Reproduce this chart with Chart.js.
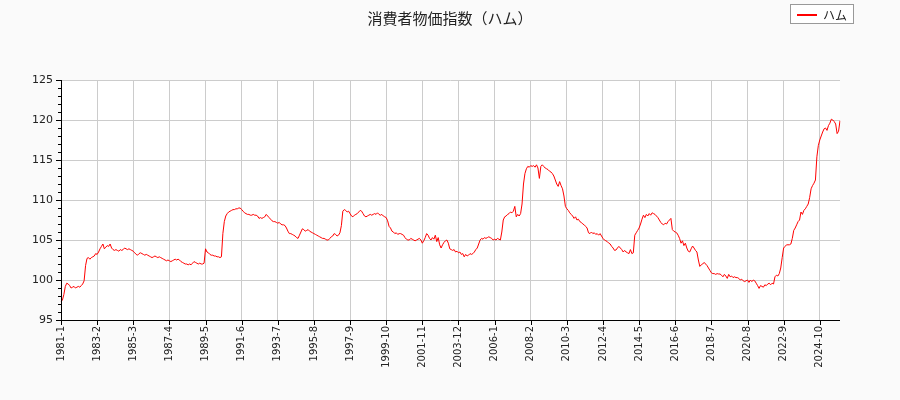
<!DOCTYPE html>
<html><head><meta charset="utf-8">
<script src="https://cdn.jsdelivr.net/npm/chart.js@4"></script>
<style>
body{margin:0;background:#fafafa;font-family:"DejaVu Sans",sans-serif;}
#wrap{position:relative;width:900px;height:400px;}
#title{position:absolute;top:7px;left:0;width:900px;text-align:center;font-size:15px;color:#222;font-family:"Noto Sans CJK JP","DejaVu Sans",sans-serif;}
#legend{position:absolute;left:790px;top:4px;width:64px;height:20px;border:1px solid #999;background:#fff;font-size:12px;color:#222;box-sizing:border-box;font-family:"Noto Sans CJK JP",sans-serif;}
#legend span.l{position:absolute;left:6px;top:9px;width:20px;height:2px;background:#f00;}
#legend span.t{position:absolute;left:32px;top:1px;}
</style></head><body>
<div id="wrap"><canvas id="c" width="900" height="400"></canvas>
<div id="title">消費者物価指数（ハム）</div>
<div id="legend"><span class="l"></span><span class="t">ハム</span></div></div>
<script>
const startYear = 1981;
const seriesName = "ハム";
const yTicks = [95,100,105,110,115,120,125];
const v1981_1989 = [
97.3,97.5,98.2,99.2,99.6,99.5,99.3,99.0,99.1,99.2,99.0,99.1,
99.2,99.1,99.3,99.5,99.9,101.8,102.7,102.8,102.6,102.8,102.9,103.0,
103.3,103.2,103.5,103.9,104.2,104.5,103.9,104.1,104.3,104.2,104.5,104.0,
103.8,103.7,103.8,103.7,103.6,103.8,103.7,103.8,104.0,103.9,103.8,103.9,
103.8,103.7,103.6,103.4,103.2,103.1,103.3,103.4,103.3,103.2,103.1,103.2,
103.1,103.0,102.9,102.8,102.9,103.0,102.9,102.8,102.9,102.8,102.7,102.6,
102.5,102.4,102.5,102.4,102.3,102.4,102.5,102.6,102.5,102.6,102.5,102.3,
102.2,102.1,102.0,102.0,101.9,102.0,101.9,102.1,102.3,102.2,102.1,102.0,
102.1,102.0,102.0,102.1,103.9,103.5,103.4,103.2,103.1,103.1,103.0,103.0];
const v1990_1999 = [
102.9,102.9,102.8,102.9,105.8,107.3,108.0,108.3,108.5,108.6,108.7,108.8,
108.8,108.9,108.9,109.0,109.0,108.8,108.6,108.4,108.3,108.2,108.2,108.1,
108.1,108.2,108.1,108.1,108.0,107.7,107.8,107.7,107.8,107.9,108.2,108.0,
107.8,107.6,107.4,107.3,107.3,107.2,107.1,107.2,107.0,106.9,106.9,106.8,
106.5,106.1,105.8,105.8,105.7,105.6,105.5,105.3,105.2,105.6,106.0,106.4,
106.3,106.1,106.2,106.3,106.1,106.0,105.9,105.8,105.7,105.6,105.5,105.4,
105.3,105.2,105.2,105.1,105.0,105.0,105.2,105.4,105.5,105.8,105.7,105.5,
105.6,105.9,106.8,108.6,108.8,108.7,108.5,108.6,108.3,108.0,107.9,108.1,
108.2,108.3,108.5,108.7,108.6,108.3,108.0,107.9,108.0,108.1,108.2,108.1,
108.2,108.3,108.2,108.4,108.2,108.1,108.2,108.0,107.9,107.8,107.4,106.7];
const v2000_2009 = [
106.5,106.1,106.0,105.8,105.9,105.7,105.8,105.8,105.7,105.6,105.3,105.1,
105.0,105.0,105.2,105.1,105.0,104.9,105.0,105.1,105.2,105.0,104.6,104.9,
105.3,105.8,105.6,105.2,105.0,105.3,105.1,105.6,104.8,105.3,104.4,104.0,
104.4,104.7,104.9,105.0,104.6,103.9,103.8,103.7,103.8,103.5,103.6,103.4,
103.5,103.2,103.3,102.9,103.2,103.0,103.1,103.3,103.2,103.3,103.5,103.8,
104.0,104.5,105.0,105.2,105.1,105.3,105.2,105.3,105.4,105.3,105.2,105.0,
105.1,105.0,105.2,105.1,105.0,106.0,107.5,107.9,108.0,108.2,108.3,108.5,
108.4,108.6,109.2,107.9,108.2,108.0,108.3,109.5,112.0,113.3,113.9,114.2,
114.1,114.3,114.2,114.3,114.1,114.4,114.0,112.7,114.2,114.4,114.2,114.0,
113.9,113.8,113.6,113.5,113.3,113.0,112.5,112.0,111.7,112.3,111.8,111.4];
const v2010_2019 = [
110.5,109.2,108.9,108.7,108.4,108.2,108.0,107.7,107.9,107.5,107.6,107.3,
107.2,107.0,106.9,106.7,106.5,105.9,105.8,106.0,105.8,105.9,105.7,105.8,
105.6,105.8,105.5,105.2,105.0,104.9,104.8,104.6,104.5,104.2,104.0,103.7,
103.75,104.0,104.2,104.0,103.8,103.5,103.7,103.5,103.4,103.3,103.8,103.3,
103.4,105.6,105.9,106.2,106.5,107.0,107.6,108.1,107.8,108.2,108.0,108.3,
108.1,108.4,108.3,108.2,108.0,107.8,107.5,107.2,107.0,106.9,107.1,107.0,
107.3,107.5,107.7,106.3,106.1,106.0,105.9,105.6,105.2,104.6,104.9,104.3,
104.6,104.0,103.6,103.5,103.9,104.25,104.0,103.7,103.5,102.5,101.7,101.9,
102.0,102.2,102.0,101.8,101.5,101.2,100.9,100.8,100.8,100.7,100.8,100.75,
100.75,100.6,100.4,100.7,100.5,100.2,100.7,100.4,100.5,100.3,100.4,100.3];
const v2020_2025 = [
100.3,100.2,100.0,100.1,99.9,99.8,99.9,100.0,99.7,100.0,99.8,100.0,
99.9,99.6,99.3,98.95,99.3,99.2,99.1,99.4,99.3,99.5,99.6,99.4,
99.6,99.5,100.4,100.6,100.5,100.8,101.5,102.8,104.0,104.2,104.4,104.4,
104.4,104.5,105.2,106.2,106.5,106.9,107.3,107.5,108.5,108.2,108.7,108.9,
109.2,109.5,110.3,111.4,111.8,112.1,112.5,115.4,116.8,117.5,118.0,118.5,
118.9,119.0,118.7,119.3,119.6,120.1,120.0,119.8,119.5,118.3,118.6,119.9];
const values = [].concat(v1981_1989, v1990_1999, v2000_2009, v2010_2019, v2020_2025);
const labels = values.map((_, i) => (startYear + Math.floor(i / 12)) + '-' + (i % 12 + 1));
const labelStep = 25;

const axisPlugin = {
  id: 'axisDeco',
  afterDraw(chart) {
    const ctx = chart.ctx, a = chart.chartArea, y = chart.scales.y, x = chart.scales.x;
    ctx.save();
    ctx.strokeStyle = '#000'; ctx.lineWidth = 1;
    ctx.beginPath();
    ctx.moveTo(a.left + 0.5, a.top); ctx.lineTo(a.left + 0.5, a.bottom);
    ctx.moveTo(a.left, a.bottom + 0.5); ctx.lineTo(a.right, a.bottom + 0.5);
    for (let v = 95; v <= 125; v++) {
      const py = Math.round(y.getPixelForValue(v)) + 0.5;
      const len = v % 5 === 0 ? 5 : 3;
      ctx.moveTo(a.left - len, py); ctx.lineTo(a.left, py);
    }
    for (let i = 0; i < labels.length; i += labelStep) {
      const px = Math.round(x.getPixelForValue(i)) + 0.5;
      ctx.moveTo(px, a.bottom); ctx.lineTo(px, a.bottom + 5);
    }
    ctx.stroke();
    ctx.restore();
  }
};

new Chart(document.getElementById('c'), {
  type: 'line',
  data: { labels, datasets: [{ label: seriesName, data: values, borderColor: '#ff0000', borderWidth: 1, pointRadius: 0, tension: 0, fill: false }] },
  options: {
    responsive: false, animation: false, devicePixelRatio: 1,
    layout: { padding: { top: 80, right: 60, left: 0, bottom: 0 } },
    plugins: { legend: { display: false }, title: { display: false }, tooltip: { enabled: false } },
    scales: {
      x: {
        type: 'category', offset: false,
        afterFit(s) { s.height = 80; },
        grid: { color: c => (c.index % labelStep === 0 ? '#cccccc' : 'rgba(0,0,0,0)'), drawTicks: false },
        border: { display: false },
        ticks: { autoSkip: false, maxRotation: 90, minRotation: 90, padding: 6, color: '#222', font: { family: 'DejaVu Sans', size: 10 },
          callback: (v, i) => (i % labelStep === 0 ? labels[i] : '') }
      },
      y: {
        min: 95, max: 125,
        afterFit(s) { s.width = 61; },
        afterBuildTicks(s) { s.ticks = yTicks.map(v => ({ value: v })); },
        grid: { color: '#cccccc', drawTicks: false },
        border: { display: false },
        ticks: { padding: 8, color: '#222', font: { family: 'DejaVu Sans', size: 11 } }
      }
    }
  },
  plugins: [axisPlugin, {
    id: 'bg',
    beforeDraw(chart) { const a = chart.chartArea, ctx = chart.ctx; ctx.save(); ctx.fillStyle = '#fff'; ctx.fillRect(a.left, a.top, a.right - a.left, a.bottom - a.top); ctx.restore(); }
  }]
});
</script></body></html>
